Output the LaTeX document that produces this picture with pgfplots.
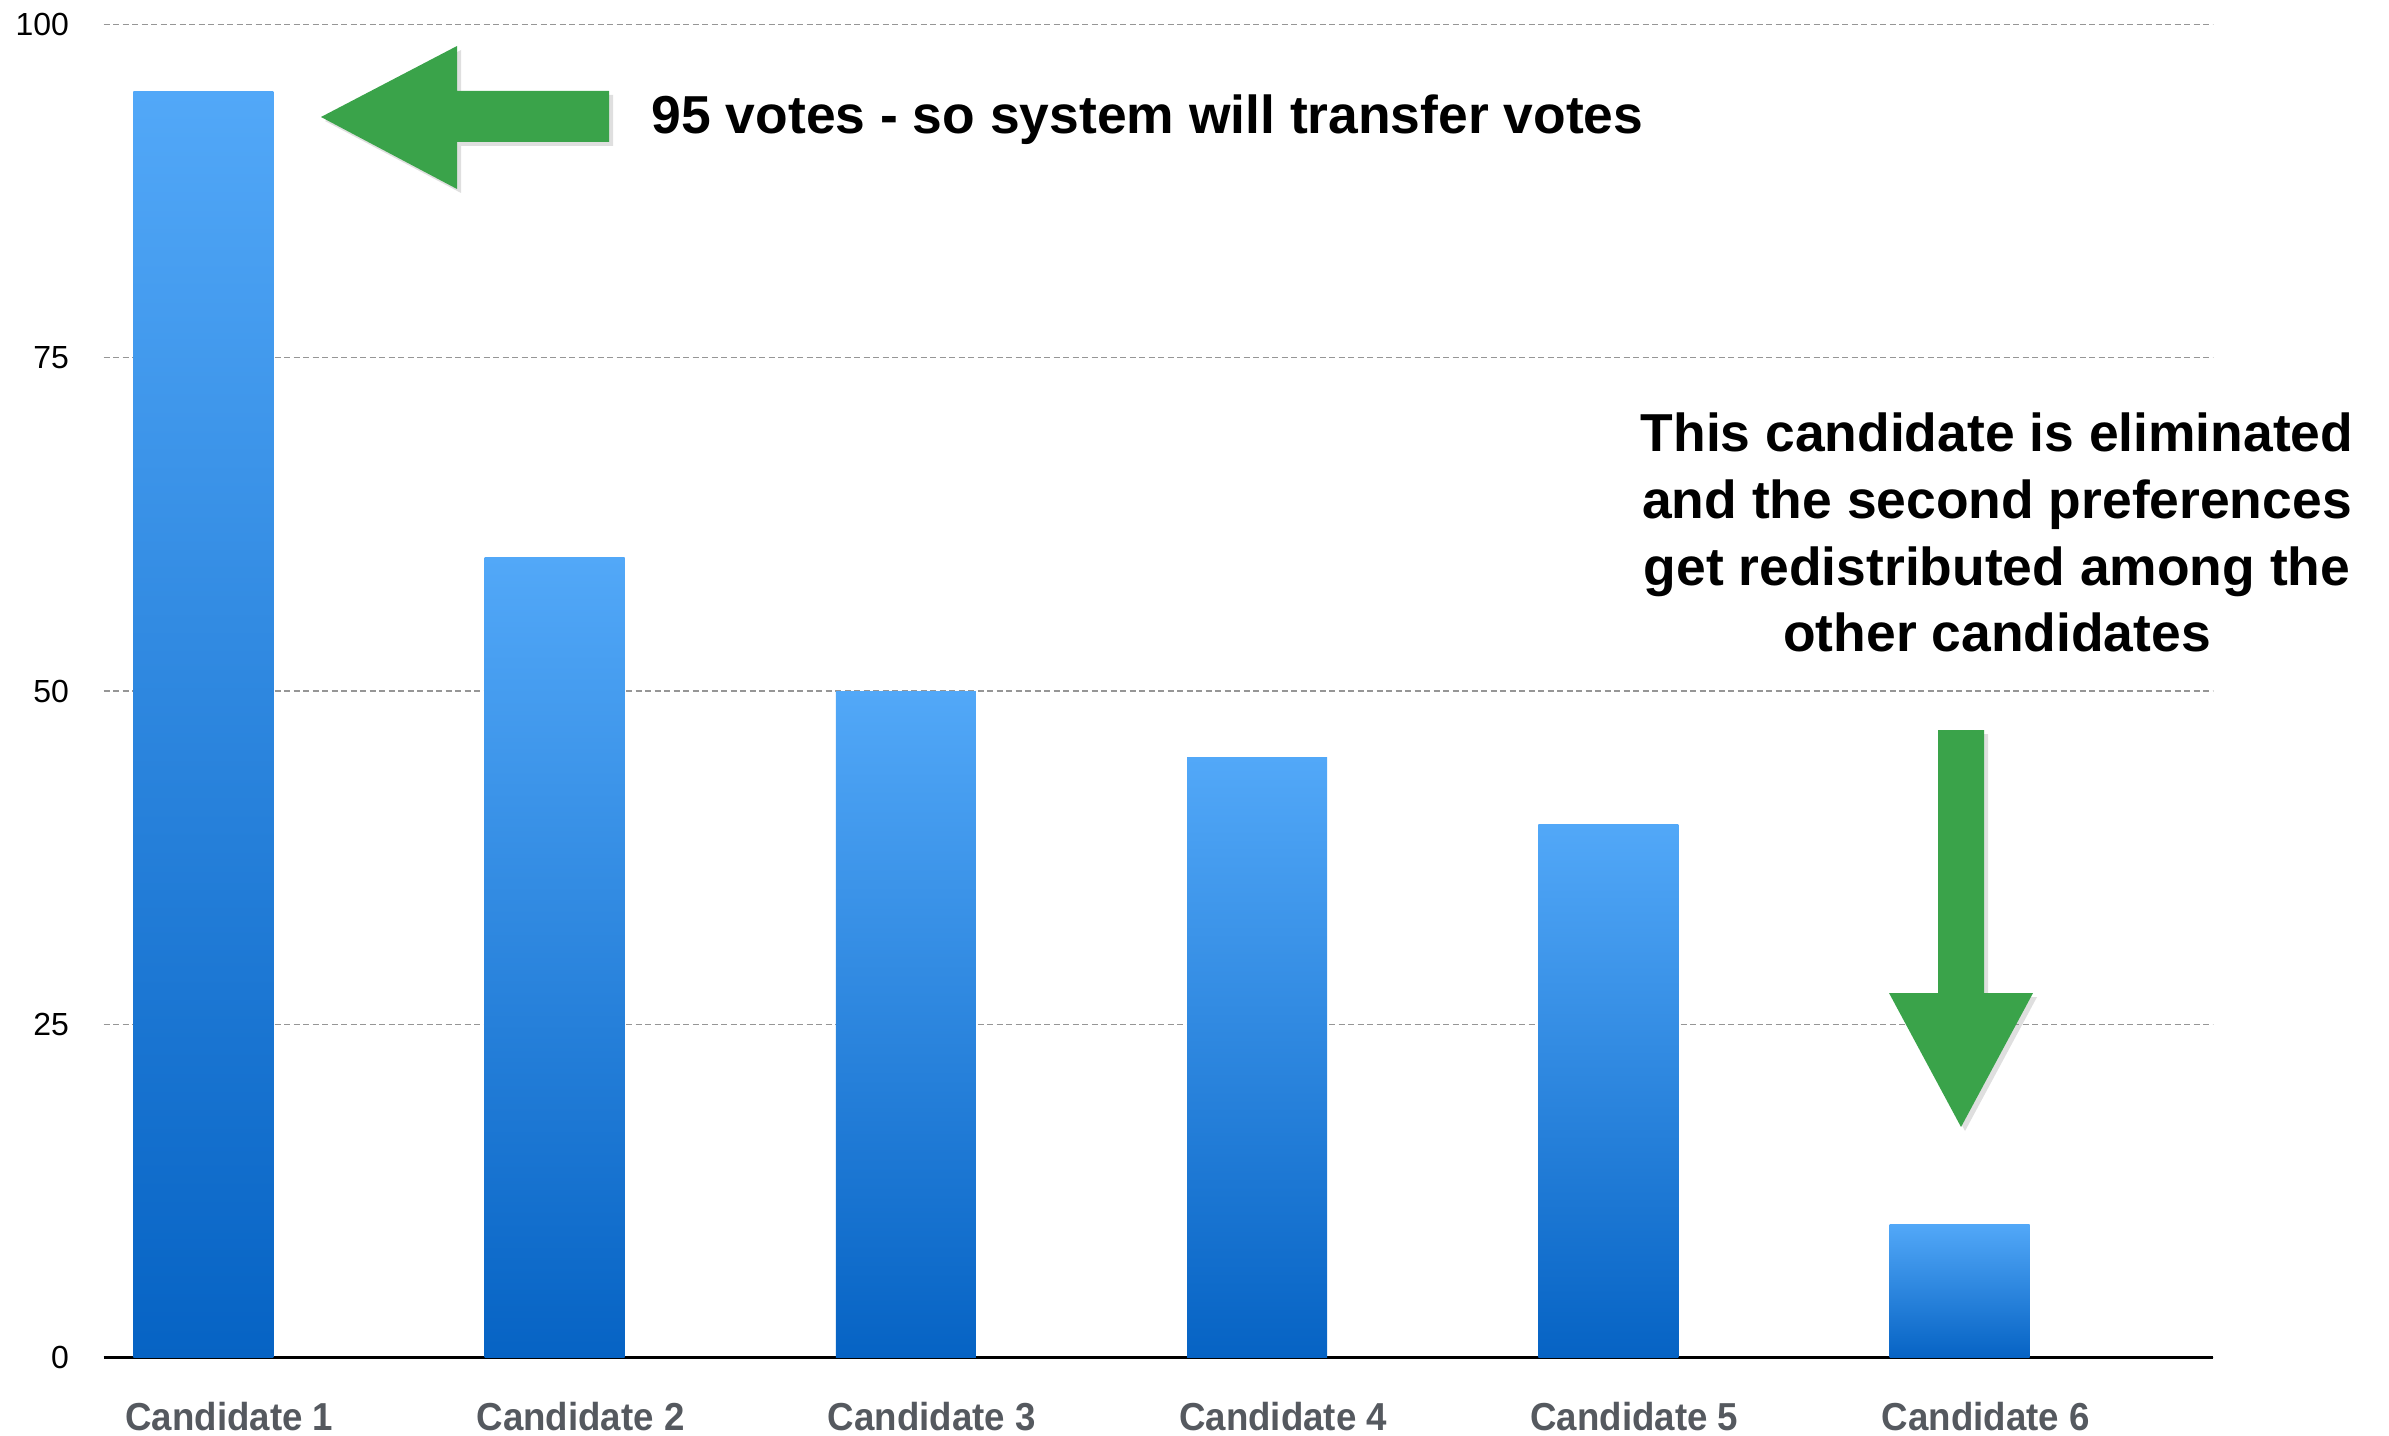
\documentclass[border=0pt]{standalone}
\usepackage{pgfplots}
\pgfplotsset{compat=1.18}
\usepackage{fontspec}
\setmainfont{Liberation Sans}
\usetikzlibrary{shadows}
\definecolor{barTop}{RGB}{82,168,248}
\definecolor{barBot}{RGB}{6,99,196}
\definecolor{arrowGreen}{RGB}{58,163,74}
\definecolor{labelGray}{RGB}{85,89,95}
\definecolor{gridGray}{RGB}{150,150,150}
% slightly narrow look of the original category labels
\newcommand{\cond}[1]{\scalebox{0.94}[1]{#1}}

\begin{document}
\begin{tikzpicture}[x=0.1mm,y=0.1mm]
    \useasboundingbox (0,0) rectangle (2389,1435);
    \begin{axis}[
            at={(10.36mm,7.75mm)}, anchor=south west,
            scale only axis,
            width=210.9mm, height=133.3mm,
            xmin=-0.284, xmax=5.72,
            ymin=0, ymax=100,
            axis lines*=left,
            y axis line style={draw=none},
            x axis line style={black, line width=0.85pt},
            major tick length=0pt,
            no marks,
            xtick={0,1,2,3,4,5},
            xticklabels={\cond{Candidate 1},\cond{Candidate 2},\cond{Candidate 3},\cond{Candidate 4},\cond{Candidate 5},\cond{Candidate 6}},
            xticklabel style={font=\bfseries\fontsize{11.1}{13}\selectfont, text=labelGray, anchor=center, inner sep=0pt, yshift=-5.9mm, xshift=2.6mm},
            ytick={0,25,50,75,100},
            yticklabels={0,25,50,75,100},
            yticklabel style={font=\fontsize{9.1}{11}\selectfont, anchor=east, inner sep=0pt, xshift=-3.4mm},
            ymajorgrids,
            major grid style={gridGray, line width=0.4pt, dash pattern=on 0.6mm off 0.35mm},
            % one plot per bar so that each bar gets its own gradient
            every axis plot/.style={ybar, bar shift=0pt, bar width=14.0mm, draw=none, top color=barTop, bottom color=barBot},
        ]
        \addplot coordinates {(0,95)};
        \addplot coordinates {(1,60)};
        \addplot coordinates {(2,50)};
        \addplot coordinates {(3,45)};
        \addplot coordinates {(4,40)};
        \addplot coordinates {(5,10)};
    \end{axis}

    % green arrows
    \fill[arrowGreen, drop shadow={opacity=0.25, shadow xshift=0.4mm, shadow yshift=-0.4mm}]
        (321,1318) -- (457,1389) -- (457,1344) -- (609,1344) -- (609,1293) -- (457,1293) -- (457,1246) -- cycle;
    \fill[arrowGreen, drop shadow={opacity=0.25, shadow xshift=0.4mm, shadow yshift=-0.4mm}]
        (1938,705) -- (1984,705) -- (1984,442) -- (2033,442) -- (1961,308) -- (1889,442) -- (1938,442) -- cycle;

    % annotations
    \node[anchor=base west, inner sep=0pt, font=\bfseries\fontsize{15.2}{18}\selectfont] at (651,1301)
        {95 votes - so system will transfer votes};
    \begin{scope}[every node/.style={anchor=base, inner sep=0pt, font=\bfseries\fontsize{15.2}{18}\selectfont}]
        \node at (1997,984) {This candidate is eliminated};
        \node at (1997,917) {and the second preferences};
        \node at (1997,850) {get redistributed among the};
        \node at (1997,784) {other candidates};
    \end{scope}
\end{tikzpicture}
\end{document}
